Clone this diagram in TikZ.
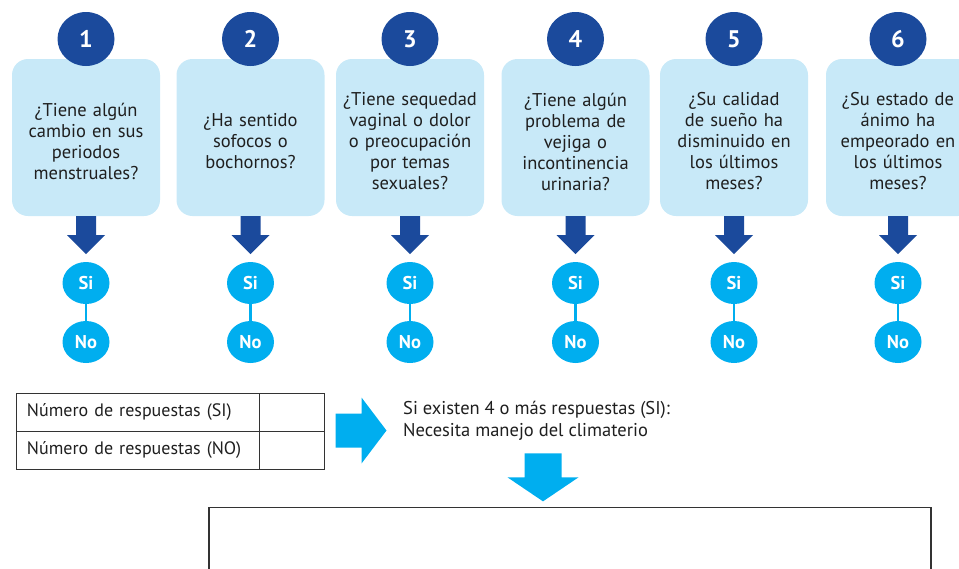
\documentclass[tikz,border=0pt]{standalone}
\usepackage{fontspec}
\setmainfont{PT Sans}
\usetikzlibrary{calc}
\usetikzlibrary{positioning}
\usetikzlibrary{shapes.geometric}
\definecolor{navy}{HTML}{1B4A9C}
\definecolor{paleblue}{HTML}{C8E9F8}
\definecolor{skyblue}{HTML}{00AEEF}
\tikzstyle{qbox} = [fill=paleblue, rounded corners=16pt, minimum width=148pt, minimum height=157pt]
\tikzstyle{qtext} = [text width=140pt, align=center, inner sep=0, text=black!88, font=\fontsize{18.5}{21}\selectfont]
\tikzstyle{numnode} = [ellipse, fill=navy, minimum width=57pt, minimum height=54pt, inner sep=0, text=white, font=\fontsize{24}{24}\selectfont\bfseries]
\tikzstyle{ansnode} = [ellipse, fill=skyblue, minimum width=47pt, minimum height=42pt, inner sep=0, text=white, font=\fontsize{18.5}{18.5}\selectfont\bfseries]
\tikzstyle{ansline} = [draw=skyblue, line width=2.5pt]
\tikzstyle{navyarrow} = [fill=navy]
\tikzstyle{skyarrow} = [fill=skyblue]
\tikzstyle{cell} = [draw=black!80, line width=1pt, minimum height=38pt, inner sep=0, text=black!88, font=\fontsize{18}{21}\selectfont]

\begin{document}
\begin{tikzpicture}[x=1pt, y=-1pt]
    \useasboundingbox (0,0) rectangle (959,568);
    \clip (0,0) rectangle (959,568);

    \node[qbox] (q1_box) at (86,137.5) {};
    \node[qtext] (q1_txt) at ($(q1_box)+(0,4)$) {¿Tiene algún\\cambio en sus\\periodos\\menstruales?};
    \node[numnode] (q1_num) at ($(q1_box)+(0,-98.5)$) {1};
    \node[ansnode] (q1_si) at ($(q1_box)+(0,145.5)$) {Si};
    \node[ansnode] (q1_no) at ($(q1_si)+(0,59)$) {No};
    \draw[ansline] (q1_si) -- (q1_no);
    \fill[navyarrow] ($(q1_box.south)+(-10,0)$) -- ++(20,0) -- ++(0,19) -- ++(9,0)
        -- ($(q1_box.south)+(0,38)$) -- ++(-19,-19) -- ++(9,0) -- cycle;

    \node[qbox] (q2_box) at ($(q1_box)+(164.5,0)$) {};
    \node[qtext] (q2_txt) at ($(q2_box)+(0,4)$) {¿Ha sentido\\sofocos o\\bochornos?};
    \node[numnode] (q2_num) at ($(q2_box)+(0,-98.5)$) {2};
    \node[ansnode] (q2_si) at ($(q2_box)+(0,145.5)$) {Si};
    \node[ansnode] (q2_no) at ($(q2_si)+(0,59)$) {No};
    \draw[ansline] (q2_si) -- (q2_no);
    \fill[navyarrow] ($(q2_box.south)+(-10,0)$) -- ++(20,0) -- ++(0,19) -- ++(9,0)
        -- ($(q2_box.south)+(0,38)$) -- ++(-19,-19) -- ++(9,0) -- cycle;

    \node[qbox] (q3_box) at ($(q2_box)+(159.5,0)$) {};
    \node[qtext] (q3_txt) at ($(q3_box)+(0,4)$) {¿Tiene sequedad\\vaginal o dolor\\o preocupación\\por temas\\sexuales?};
    \node[numnode] (q3_num) at ($(q3_box)+(0,-98.5)$) {3};
    \node[ansnode] (q3_si) at ($(q3_box)+(0,145.5)$) {Si};
    \node[ansnode] (q3_no) at ($(q3_si)+(0,59)$) {No};
    \draw[ansline] (q3_si) -- (q3_no);
    \fill[navyarrow] ($(q3_box.south)+(-10,0)$) -- ++(20,0) -- ++(0,19) -- ++(9,0)
        -- ($(q3_box.south)+(0,38)$) -- ++(-19,-19) -- ++(9,0) -- cycle;

    \node[qbox] (q4_box) at ($(q3_box)+(165.5,0)$) {};
    \node[qtext] (q4_txt) at ($(q4_box)+(0,4)$) {¿Tiene algún\\problema de\\vejiga o\\incontinencia\\urinaria?};
    \node[numnode] (q4_num) at ($(q4_box)+(0,-98.5)$) {4};
    \node[ansnode] (q4_si) at ($(q4_box)+(0,145.5)$) {Si};
    \node[ansnode] (q4_no) at ($(q4_si)+(0,59)$) {No};
    \draw[ansline] (q4_si) -- (q4_no);
    \fill[navyarrow] ($(q4_box.south)+(-10,0)$) -- ++(20,0) -- ++(0,19) -- ++(9,0)
        -- ($(q4_box.south)+(0,38)$) -- ++(-19,-19) -- ++(9,0) -- cycle;

    \node[qbox] (q5_box) at ($(q4_box)+(158.5,0)$) {};
    \node[qtext] (q5_txt) at ($(q5_box)+(0,4)$) {¿Su calidad\\de sueño ha\\disminuido en\\los últimos\\meses?};
    \node[numnode] (q5_num) at ($(q5_box)+(0,-98.5)$) {5};
    \node[ansnode] (q5_si) at ($(q5_box)+(0,145.5)$) {Si};
    \node[ansnode] (q5_no) at ($(q5_si)+(0,59)$) {No};
    \draw[ansline] (q5_si) -- (q5_no);
    \fill[navyarrow] ($(q5_box.south)+(-10,0)$) -- ++(20,0) -- ++(0,19) -- ++(9,0)
        -- ($(q5_box.south)+(0,38)$) -- ++(-19,-19) -- ++(9,0) -- cycle;

    \node[qbox] (q6_box) at ($(q5_box)+(166,0)$) {};
    \node[qtext] (q6_txt) at ($(q6_box)+(-2,4)$) {¿Su estado de\\ánimo ha\\empeorado en\\los últimos\\meses?};
    \node[numnode] (q6_num) at ($(q6_box)+(-2,-98.5)$) {6};
    \node[ansnode] (q6_si) at ($(q6_box)+(-2,145.5)$) {Si};
    \node[ansnode] (q6_no) at ($(q6_si)+(0,59)$) {No};
    \draw[ansline] (q6_si) -- (q6_no);
    \fill[navyarrow] ($(q6_box.south)+(-12,0)$) -- ++(20,0) -- ++(0,19) -- ++(9,0)
        -- ($(q6_box.south)+(-2,38)$) -- ++(-19,-19) -- ++(9,0) -- cycle;

    % tally table
    \node[cell, minimum width=243pt, text width=221pt, align=left] (si_lbl) at (137.5,412) {Número de respuestas (SI)};
    \node[cell, minimum width=65pt] (si_val) at (291.5,412) {};
    \node[cell, minimum width=243pt, text width=221pt, align=left] (no_lbl) at ($(si_lbl)+(0,38)$) {Número de respuestas (NO)};
    \node[cell, minimum width=65pt] (no_val) at ($(si_val)+(0,38)$) {};

    \coordinate (rarrow) at ($(si_val.south east)+(11,-1)$);
    \fill[skyarrow] ($(rarrow)+(0,-17)$) -- ++(26,0) -- ++(0,-16)
        -- ($(rarrow)+(51,0)$) -- ++(-25,33) -- ++(0,-16) -- ++(-26,0) -- cycle;

    \node[anchor=west, align=left, inner sep=0, text=black!88, font=\fontsize{18.5}{22}\selectfont] (verdict) at (403,421)
        {Si existen 4 o más respuestas (SI):\\Necesita manejo del climaterio};

    \node[draw=black!80, line width=1.3pt, minimum width=722pt, minimum height=185pt] (result) at (570,600) {};

    \coordinate (darrow) at ($(result.north)+(-27,-5.5)$);
    \fill[skyarrow] ($(darrow)+(-18.5,-48)$) -- ++(37,0) -- ++(0,24) -- ++(17,0)
        -- (darrow) -- ++(-35.5,-24) -- ++(17,0) -- cycle;
\end{tikzpicture}
\end{document}
